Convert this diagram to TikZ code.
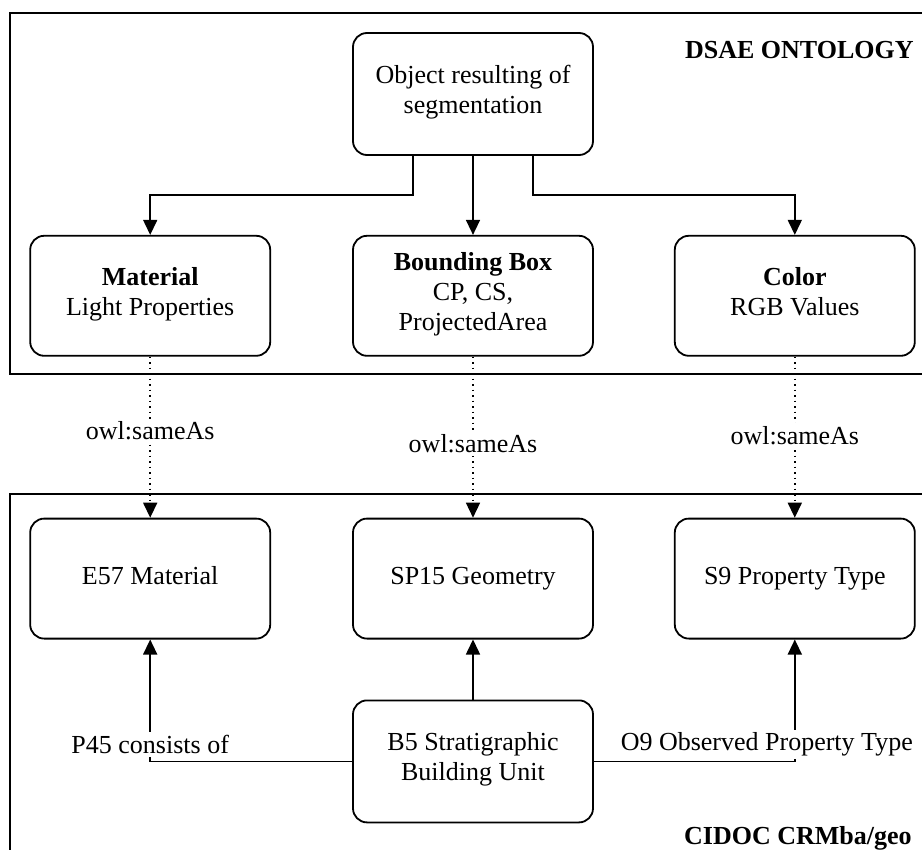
\documentclass[tikz,border=0pt]{standalone}
\usepackage{fontspec}
\setmainfont{Liberation Serif}
\usetikzlibrary{arrows.meta, positioning, calc}
\tikzset{
	concept/.style  ={rectangle, rounded corners=7pt, draw=black, line width=0.9pt, minimum width=120pt, minimum height=60pt, align=center, inner sep=2pt, execute at begin node=\strut, execute at end node=\strut},
	partframe/.style={draw=black, line width=0.9pt},
	headline/.style ={font=\fontsize{13pt}{15pt}\selectfont\bfseries, inner sep=0pt},
	rel/.style      ={-{Triangle[length=7.5pt, width=7pt]}, line width=0.75pt},
	same/.style     ={rel, dotted},
	lbl/.style      ={fill=white, inner sep=1.5pt},
}
\begin{document}
\begin{tikzpicture}[font=\fontsize{13pt}{15pt}\selectfont, node distance=40pt]
	\useasboundingbox (0,0) rectangle (461pt,-425pt);
	\clip (0,0) rectangle (461pt,-425pt);
	% DSAE ontology
	\draw[partframe] (5pt,-6.5pt) rectangle (475pt,-187pt);
	\node[concept, minimum height=61pt] (obj) at (236.5pt,-47pt) {Object resulting of\\ segmentation};
	\node[concept, below=39.5pt of obj] (bbox) {\textbf{Bounding Box}\\ CP, CS,\\ ProjectedArea};
	\node[concept, left=40.5pt of bbox] (mat) {\textbf{Material}\\ Light Properties};
	\node[concept, right=40pt of bbox] (col) {\textbf{Color}\\ RGB Values};
	\node[headline, anchor=east] (dsae) at (457pt,-25pt) {DSAE ONTOLOGY};
	% CIDOC CRM part
	\draw[partframe] (5pt,-247pt) rectangle (475pt,-440pt);
	\node[concept, below=80.5pt of bbox] (sp15) {SP15 Geometry};
	\node[concept, left=40.5pt of sp15] (e57) {E57 Material};
	\node[concept, right=40pt of sp15] (s9) {S9 Property Type};
	\node[concept, below=30pt of sp15, minimum height=61pt] (b5) {B5 Stratigraphic\\ Building Unit};
	\node[headline, anchor=east] (cidoc) at (456pt,-419pt) {CIDOC CRMba/geo};
	% connectors
	\draw[rel] ([xshift=-30pt]obj.south) -- ++(0,-19.5pt) -| (mat.north);
	\draw[rel] (obj) -- (bbox);
	\draw[rel] ([xshift=30pt]obj.south) -- ++(0,-19.5pt) -| (col.north);
	\draw[same] (mat) -- node[lbl, pos=0.46] (sa1) {owl:sameAs} (e57);
	\draw[same] (bbox) -- node[lbl, pos=0.54] (sa2) {owl:sameAs} (sp15);
	\draw[same] (col) -- node[lbl, pos=0.49] (sa3) {owl:sameAs} (s9);
	\draw[rel] (b5) -- (sp15);
	\draw[rel] (b5.west) -| node[lbl, pos=0.57] (p45) {P45 consists of} (e57.south);
	\draw[rel] (b5.east) -| node[lbl, pos=0.57, xshift=-14pt] (o9) {O9 Observed Property Type} (s9.south);
\end{tikzpicture}
\end{document}
